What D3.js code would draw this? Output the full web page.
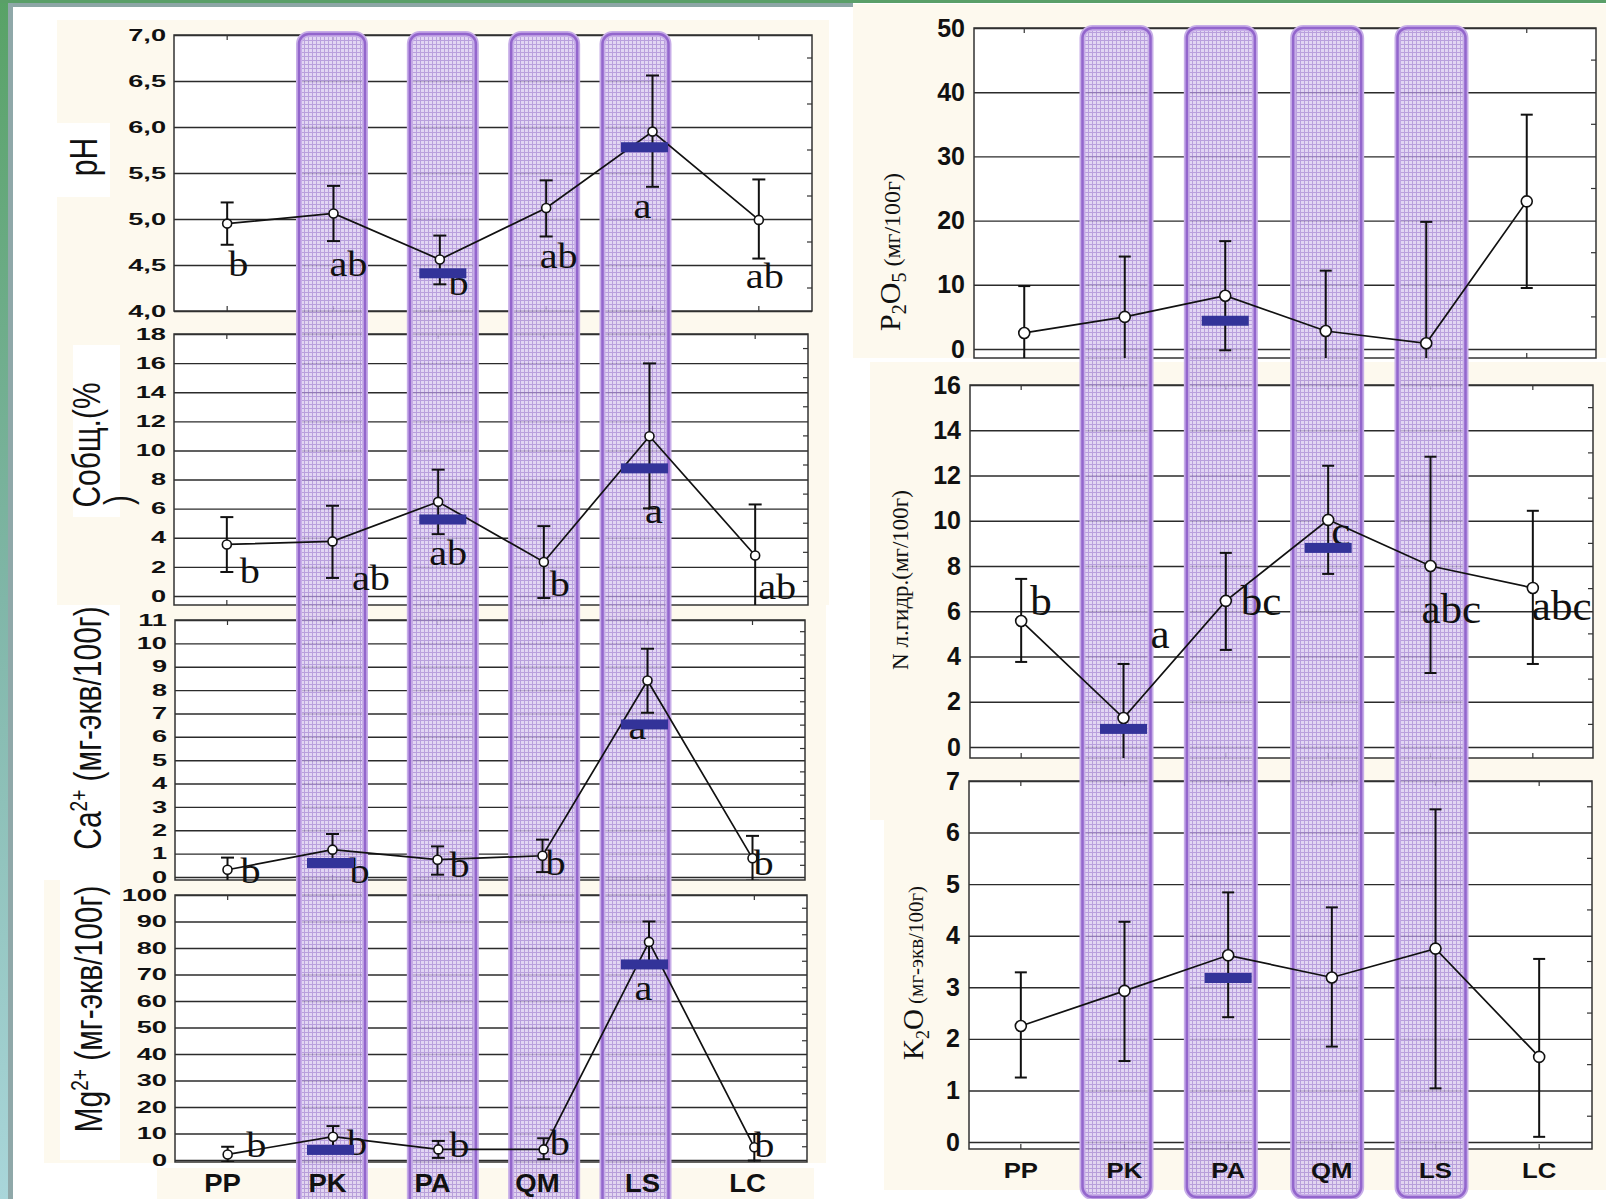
<!DOCTYPE html>
<html>
<head>
<meta charset="utf-8">
<script src="https://cdn.jsdelivr.net/npm/d3@7"></script>
<style>
body { margin: 0; background: #fff; }
svg { display: block; }
</style>
</head>
<body>
<div id="vis"></div>
<script>
// categories
const categories = ["PP", "PK", "PA", "QM", "LS", "LC"];
const bandCats = ["PK", "PA", "QM", "LS"];

// pH
const phMean = [4.95, 5.06, 4.56, 5.12, 5.95, 4.99];
const phLow = [4.72, 4.76, 4.29, 4.81, 5.35, 4.57];
const phHigh = [5.18, 5.36, 4.82, 5.42, 6.56, 5.43];
const phBar = [null, null, 4.41, null, 5.78, null];
const phLetters = ["b", "ab", "b", "ab", "a", "ab"];
const phLetterAt = [4.38, 4.38, 4.17, 4.47, 5.01, 4.25];
const phTicks = [4, 4.5, 5, 5.5, 6, 6.5, 7];

// С общ. (%)
const sobMean = [3.54, 3.75, 6.47, 2.34, 10.98, 2.78];
const sobLow = [1.65, 1.24, 4.25, -0.14, 6.02, -0.73];
const sobHigh = [5.42, 6.2, 8.68, 4.8, 15.98, 6.29];
const sobBar = [null, null, 5.26, null, 8.77, null];
const sobLetters = ["b", "ab", "ab", "b", "a", "ab"];
const sobLetterAt = [0.9, 0.4, 2.1, 0, 5.0, -0.2];
const sobTicks = [0, 2, 4, 6, 8, 10, 12, 14, 16, 18];

// Ca2+
const caMean = [0.31, 1.17, 0.74, 0.91, 8.41, 0.8];
const caLow = [-0.21, 0.5, 0.1, 0.21, 7.03, -0.16];
const caHigh = [0.83, 1.84, 1.31, 1.6, 9.77, 1.76];
const caBar = [null, 0.6, null, null, 6.53, null];
const caLetters = ["b", "b", "b", "b", "a", "b"];
const caLetterAt = [-0.26, -0.26, 0, 0.09, 5.9, 0.09];
const caTicks = [0, 1, 2, 3, 4, 5, 6, 7, 8, 9, 10, 11];

// Mg2+
const mgMean = [2.1, 8.8, 4.0, 4.0, 82.3, 4.8];
const mgLow = [-0.8, 4.8, 0.8, 0.3, 74.6, -0.2];
const mgHigh = [5.0, 12.8, 7.2, 8.2, 90.0, 9.8];
const mgBar = [null, 3.8, null, null, 73.8, null];
const mgLetters = ["b", "b", "b", "b", "a", "b"];
const mgLetterAt = [1.1, 1.9, 1.1, 1.9, 60.4, 1.1];
const mgTicks = [0, 10, 20, 30, 40, 50, 60, 70, 80, 90, 100];

// P2O5
const pMean = [2.5, 5.0, 8.3, 2.8, 0.9, 23.0];
const pLow = [-4.8, -4.4, -0.2, -6.6, -18.0, 9.5];
const pHigh = [9.8, 14.4, 16.8, 12.2, 19.8, 36.5];
const pBar = [null, null, 4.4, null, null, null];
const pTicks = [0, 10, 20, 30, 40, 50];

// N л.гидр.
const nMean = [5.57, 1.28, 6.46, 10.04, 8.0, 7.03];
const nLow = [3.76, -1.1, 4.29, 7.65, 3.27, 3.67];
const nHigh = [7.43, 3.67, 8.58, 12.43, 12.83, 10.44];
const nBar = [null, 0.8, null, 8.8, null, null];
const nLetters = ["b", "a", "bc", "c", "abc", "abc"];
const nLetterAt = [5.84, 4.38, 5.84, 8.94, 5.49, 5.62];
const nTicks = [0, 2, 4, 6, 8, 10, 12, 14, 16];

// K2O
const kMean = [2.25, 2.93, 3.62, 3.19, 3.75, 1.65];
const kLow = [1.25, 1.57, 2.42, 1.85, 1.04, 0.1];
const kHigh = [3.29, 4.27, 4.84, 4.55, 6.45, 3.55];
const kBar = [null, null, 3.18, null, null, null];
const kTicks = [0, 1, 2, 3, 4, 5, 6, 7];

const W = 1606, H = 1199;
const CREAM = "#fdf9ee";
const SANS = "'Liberation Sans', Arial, sans-serif";
const SERIF = "'Liberation Serif', 'Times New Roman', serif";

const svg = d3.select("#vis").append("svg").attr("width", W).attr("height", H);
const defs = svg.append("defs");

const grad = defs.append("linearGradient").attr("id", "strip")
    .attr("x1", 0).attr("y1", 0).attr("x2", 0).attr("y2", 1);
grad.append("stop").attr("offset", "0%").attr("stop-color", "#58a266");
grad.append("stop").attr("offset", "50%").attr("stop-color", "#80b6a8");
grad.append("stop").attr("offset", "100%").attr("stop-color", "#a9d6da");

const pat = defs.append("pattern").attr("id", "hatch")
    .attr("width", 4).attr("height", 4).attr("patternUnits", "userSpaceOnUse");
pat.append("rect").attr("width", 4).attr("height", 4).attr("fill", "#dccdf0");
pat.append("path").attr("d", "M0,0.5H4M0.5,0V4").attr("stroke", "#a98bd6").attr("stroke-width", 1);

const L = {};
["bg", "cream", "frame", "grid", "band", "data", "letters", "bars", "text"].forEach(k => L[k] = svg.append("g"));

// page background and edges
L.bg.append("rect").attr("width", W).attr("height", H).attr("fill", "#fff");
L.bg.append("rect").attr("x", 0).attr("y", 0).attr("width", 8).attr("height", H).attr("fill", "url(#strip)");
L.bg.append("rect").attr("x", 8).attr("y", 0).attr("width", 5).attr("height", H).attr("fill", "#8fa8a9");
L.bg.append("rect").attr("x", 0).attr("y", 0).attr("width", W).attr("height", 3).attr("fill", "#5a9f68");
L.bg.append("rect").attr("x", 13).attr("y", 3).attr("width", 840).attr("height", 4).attr("fill", "#8da6a6");

// cream picture backgrounds
const creamRects = [
  [57, 20, 772, 302], [57, 322, 772, 283], [120, 605, 706, 275], [44, 880, 782, 283],
  [157, 1168, 657, 31], [853, 4, 753, 354], [870, 362, 736, 458], [884, 820, 722, 370]
];
const whiteRects = [[57, 123, 53, 74], [73, 345, 47, 172], [60, 880, 60, 280]];
L.cream.selectAll(".c").data(creamRects).join("rect")
    .attr("x", d => d[0]).attr("y", d => d[1]).attr("width", d => d[2]).attr("height", d => d[3])
    .attr("fill", CREAM);
L.cream.selectAll(".w").data(whiteRects).join("rect")
    .attr("x", d => d[0]).attr("y", d => d[1]).attr("width", d => d[2]).attr("height", d => d[3])
    .attr("fill", "#fff");

const fmtComma = d => d3.format(".1f")(d).replace(".", ",");

// x0/x1: frame, xr: end of the category range
const panels = [
  {id: "ph", mean: phMean, low: phLow, high: phHigh, bar: phBar, letters: phLetters, letterAt: phLetterAt,
   ticks: phTicks, fmt: fmtComma, side: "L", x0: 174, x1: 812, xr: 812, top: 35, zero: 311, bottom: 311,
   letterDx: [1, -4, 8.6, -6.5, -19, -13]},
  {id: "sob", mean: sobMean, low: sobLow, high: sobHigh, bar: sobBar, letters: sobLetters, letterAt: sobLetterAt,
   ticks: sobTicks, fmt: d3.format("d"), side: "L", x0: 174, x1: 808, xr: 808, top: 334, zero: 596, bottom: 605,
   letterDx: [13, 19.5, -9, 6, -4.5, 3]},
  {id: "ca", mean: caMean, low: caLow, high: caHigh, bar: caBar, letters: caLetters, letterAt: caLetterAt,
   ticks: caTicks, fmt: d3.format("d"), side: "L", x0: 175, x1: 805, xr: 805, top: 620, zero: 877, bottom: 880,
   letterDx: [13, 17, 12, 3, -19, 1]},
  {id: "mg", mean: mgMean, low: mgLow, high: mgHigh, bar: mgBar, letters: mgLetters, letterAt: mgLetterAt,
   ticks: mgTicks, fmt: d3.format("d"), side: "L", x0: 175, x1: 807, xr: 807, top: 895, zero: 1160, bottom: 1162,
   letterDx: [18.5, 14, 11, 6, -14.5, 0]},
  {id: "p2o5", mean: pMean, low: pLow, high: pHigh, bar: pBar,
   ticks: pTicks, fmt: d3.format("d"), side: "R", x0: 974, x1: 1596, xr: 1577, top: 28, zero: 349, bottom: 358},
  {id: "n", mean: nMean, low: nLow, high: nHigh, bar: nBar, letters: nLetters, letterAt: nLetterAt,
   ticks: nTicks, fmt: d3.format("d"), side: "R", x0: 970, x1: 1593, xr: 1584, top: 385, zero: 747, bottom: 758,
   letterDx: [9, 27, 15, 3, -9, -1]},
  {id: "k2o", mean: kMean, low: kLow, high: kHigh, bar: kBar,
   ticks: kTicks, fmt: d3.format("d"), side: "R", x0: 969, x1: 1592, xr: 1591, top: 781, zero: 1142, bottom: 1149}
];

const idx = d3.range(categories.length);
const xLeftRef = d3.scalePoint().domain(categories).range([174, 812]).padding(0.5);
const xRightRef = d3.scalePoint().domain(categories).range([970, 1584]).padding(0.5);
const barDxL = {PK: -3, PA: 3, LS: -8};

panels.forEach(p => {
  const x = d3.scalePoint().domain(categories).range([p.x0, p.xr]).padding(0.5);
  const y = d3.scaleLinear().domain([p.ticks[0], p.ticks[p.ticks.length - 1]]).range([p.zero, p.top]);
  const w = p.x1 - p.x0, h = p.bottom - p.top;
  const left = p.side === "L";

  L.frame.append("rect").attr("x", p.x0).attr("y", p.top).attr("width", w).attr("height", h).attr("fill", "#fff");

  const grid = L.grid.append("g").attr("transform", `translate(${p.x0},0)`)
      .call(d3.axisLeft(y).tickValues(p.ticks).tickSize(-w).tickFormat(""));
  grid.select(".domain").remove();
  grid.selectAll("line").attr("stroke", "#2b2b2b").attr("stroke-width", 1.4);

  const mids = d3.pairs(p.ticks, (a, b) => (a + b) / 2);
  L.grid.append("g").selectAll("line").data(mids).join("line")
      .attr("x1", p.x1).attr("x2", p.x1 - 5).attr("y1", d => y(d)).attr("y2", d => y(d))
      .attr("stroke", "#333").attr("stroke-width", 1.2);
  L.grid.append("g").selectAll("line").data(categories).join("line")
      .attr("x1", d => x(d)).attr("x2", d => x(d)).attr("y1", p.top).attr("y2", p.top + 5)
      .attr("stroke", "#333").attr("stroke-width", 1.2);
  L.grid.append("g").selectAll("line").data(categories).join("line")
      .attr("x1", d => x(d)).attr("x2", d => x(d)).attr("y1", p.bottom).attr("y2", p.bottom - 5)
      .attr("stroke", "#333").attr("stroke-width", 1.2);
  L.grid.append("rect").attr("x", p.x0).attr("y", p.top).attr("width", w).attr("height", h)
      .attr("fill", "none").attr("stroke", "#333").attr("stroke-width", 1.5);

  // tick labels
  const ax = L.text.append("g").attr("transform", `translate(${p.x0},0)`)
      .call(d3.axisLeft(y).tickValues(p.ticks).tickSize(0).tickFormat(p.fmt));
  ax.select(".domain").remove();
  ax.attr("font-family", SANS).attr("font-weight", "bold").attr("font-size", left ? 16 : 25);
  ax.selectAll("text").attr("x", 0).attr("fill", "#111")
      .attr("transform", left ? "translate(-8,0) scale(1.7,1)" : "translate(-9,0)");

  // error bars, line, points
  const clipId = "clip-" + p.id;
  defs.append("clipPath").attr("id", clipId).append("rect")
      .attr("x", p.x0).attr("y", p.top).attr("width", w).attr("height", h);
  const dg = L.data.append("g").attr("clip-path", `url(#${clipId})`);
  const cap = left ? 6.5 : 6;
  dg.selectAll(".eb").data(idx).join("line")
      .attr("x1", i => x(categories[i])).attr("x2", i => x(categories[i]))
      .attr("y1", i => y(p.low[i])).attr("y2", i => y(p.high[i]))
      .attr("stroke", "#111").attr("stroke-width", 2);
  ["low", "high"].forEach(k => {
    dg.selectAll(".cap-" + k).data(idx).join("line")
        .attr("x1", i => x(categories[i]) - cap).attr("x2", i => x(categories[i]) + cap)
        .attr("y1", i => y(p[k][i])).attr("y2", i => y(p[k][i]))
        .attr("stroke", "#111").attr("stroke-width", 2);
  });
  dg.append("path")
      .attr("d", d3.line().x(i => x(categories[i])).y(i => y(p.mean[i]))(idx))
      .attr("fill", "none").attr("stroke", "#111").attr("stroke-width", 1.7);
  dg.selectAll("circle").data(idx).join("circle")
      .attr("cx", i => x(categories[i])).attr("cy", i => y(p.mean[i])).attr("r", left ? 4.5 : 5.5)
      .attr("fill", "#fff").attr("stroke", "#111").attr("stroke-width", 1.6);

  // significance letters
  if (p.letters) {
    L.letters.append("g").selectAll("text").data(idx).join("text")
        .attr("transform", i => `translate(${x(categories[i]) + p.letterDx[i]},${y(p.letterAt[i])}) scale(${left ? 1.15 : 1},1)`)
        .attr("font-family", SERIF).attr("font-size", left ? 35 : 43).attr("fill", "#111")
        .text(i => p.letters[i]);
  }

  // mean markers
  const bi = idx.filter(i => p.bar[i] != null);
  L.bars.append("g").selectAll("rect").data(bi).join("rect")
      .attr("x", i => (left ? xLeftRef(categories[i]) + barDxL[categories[i]] : x(categories[i])) - 23.5)
      .attr("y", i => y(p.bar[i]) - 5).attr("width", 47).attr("height", 10)
      .attr("fill", "#333399");
});

// highlighted sites
const bandDxL = {PK: -1.5, PA: 3, QM: -2, LS: -17};
const bandDxR = {PK: -7, PA: -5, QM: -1, LS: 1};
function bands(sel, cls, xs, dx, top, height, width) {
  sel.selectAll("." + cls + "o").data(bandCats).join("rect").attr("class", cls + "o")
      .attr("x", c => xs(c) + dx[c] - width / 2).attr("y", top).attr("width", width).attr("height", height)
      .attr("rx", 10).attr("fill", "url(#hatch)").attr("fill-opacity", 0.82)
      .attr("stroke", "#c7ade8").attr("stroke-width", 6);
  sel.selectAll("." + cls + "i").data(bandCats).join("rect").attr("class", cls + "i")
      .attr("x", c => xs(c) + dx[c] - width / 2).attr("y", top).attr("width", width).attr("height", height)
      .attr("rx", 10).attr("fill", "none")
      .attr("stroke", "#9366cc").attr("stroke-width", 2.5);
}
bands(L.band, "bl", xLeftRef, bandDxL, 34, 1200, 66);
bands(L.band, "br", xRightRef, bandDxR, 28, 1169, 68);

// category labels
const xLabL = d3.scalePoint().domain(categories).range([170, 800]).padding(0.5);
L.text.append("g").selectAll("text").data(categories).join("text")
    .attr("transform", c => `translate(${xLabL(c)},1192) scale(1.1,1)`)
    .attr("text-anchor", "middle").attr("font-family", SANS).attr("font-weight", "bold")
    .attr("font-size", 25).attr("fill", "#111").text(c => c);
const xLabR = d3.scalePoint().domain(categories).range([969, 1591]).padding(0.5);
L.text.append("g").selectAll("text").data(categories).join("text")
    .attr("transform", c => `translate(${xLabR(c)},1178) scale(1.12,1)`)
    .attr("text-anchor", "middle").attr("font-family", SANS).attr("font-weight", "bold")
    .attr("font-size", 23).attr("fill", "#111").text(c => c);

// axis titles
function vlabel(cx, cy, sx, family, parts) {
  const t = L.text.append("text")
      .attr("transform", `translate(${cx},${cy}) scale(${sx},1) rotate(-90)`)
      .attr("text-anchor", "middle").attr("font-family", family).attr("fill", "#111")
      .attr("dy", "0.35em");
  parts.forEach(pt => {
    t.append("tspan").attr("font-size", pt.size).attr("dy", pt.dy || 0).text(pt.t);
  });
  return t;
}
vlabel(97, 157, 1.3, SANS, [{t: "pH", size: 30}]);
vlabel(100, 445, 1.3, SANS, [{t: "Собщ.(%", size: 30}]);
vlabel(131, 500, 1.3, SANS, [{t: ")", size: 30}]);
vlabel(101, 728, 1.3, SANS, [{t: "Ca", size: 30}, {t: "2+", size: 19, dy: -11}, {t: " (мг-экв/100г)", size: 30, dy: 11}]);
vlabel(102, 1009, 1.3, SANS, [{t: "Mg", size: 30}, {t: "2+", size: 19, dy: -11}, {t: " (мг-экв/100г)", size: 30, dy: 11}]);
vlabel(900, 252, 1, SERIF, [{t: "P", size: 30}, {t: "2", size: 20, dy: 6}, {t: "O", size: 30, dy: -6},
  {t: "5", size: 20, dy: 6}, {t: " (мг/100г)", size: 24, dy: -6}]);
vlabel(908, 580, 1, SERIF, [{t: "N л.гидр.(мг/100г)", size: 23}]);
vlabel(923, 973, 1, SERIF, [{t: "K", size: 29}, {t: "2", size: 18, dy: 6}, {t: "O", size: 29, dy: -6},
  {t: " (мг-экв/100г)", size: 21}]);
</script>
</body>
</html>
